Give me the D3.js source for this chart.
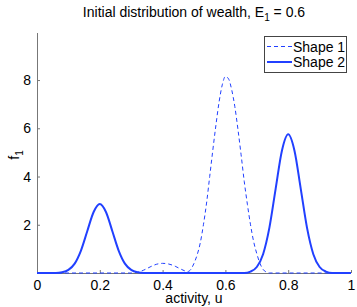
<!DOCTYPE html>
<html>
<head>
<meta charset="utf-8">
<script src="https://d3js.org/d3.v7.min.js"></script>
<style>
body{margin:0;background:#fff;}
text{font-family:"Liberation Sans",Arial,sans-serif;fill:#000;}
</style>
</head>
<body>
<script>
var xTicks = [0, 0.2, 0.4, 0.6, 0.8, 1];
var yTicks = [2, 4, 6, 8];
var seriesNames = ["Shape 1", "Shape 2"];

// shape 1 (dashed)
var shape1U = [0, 0.30, 0.32, 0.34, 0.36, 0.38, 0.40, 0.42, 0.44, 0.46, 0.48, 0.49, 0.50, 0.51, 0.52, 0.53, 0.54, 0.55, 0.56, 0.57, 0.58, 0.59, 0.60, 0.61, 0.62, 0.63, 0.64, 0.65, 0.66, 0.67, 0.68, 0.69, 0.70, 0.71, 0.72, 0.73, 0.74, 1];
var shape1F = [0, 0, 0.03, 0.12, 0.25, 0.36, 0.40, 0.37, 0.28, 0.15, 0.06, 0.15, 0.40, 0.75, 1.25, 2.0, 2.9, 4.0, 5.1, 6.15, 7.1, 7.8, 8.15, 8.05, 7.6, 6.9, 5.95, 4.9, 3.8, 2.85, 2.0, 1.3, 0.8, 0.4, 0.15, 0.04, 0, 0];

// shape 2 (solid)
var shape2U = [0, 0.06, 0.08, 0.10, 0.12, 0.14, 0.16, 0.18, 0.20, 0.22, 0.24, 0.26, 0.28, 0.30, 0.32, 0.34, 0.66, 0.68, 0.70, 0.72, 0.74, 0.76, 0.78, 0.80, 0.82, 0.84, 0.86, 0.88, 0.90, 0.92, 0.94, 1];
var shape2F = [0, 0, 0.03, 0.13, 0.39, 0.93, 1.73, 2.52, 2.86, 2.52, 1.73, 0.93, 0.39, 0.13, 0.03, 0, 0, 0.06, 0.25, 0.78, 1.87, 3.49, 5.07, 5.75, 5.07, 3.49, 1.87, 0.78, 0.25, 0.06, 0, 0];

var W = 357, H = 307;
var mLeft = 37, mRight = 351, mTop = 33, mBottom = 273;
var blue = "#2140ff";
var fs = "14px";

var svg = d3.select("body").append("svg").attr("width", W).attr("height", H);

var x = d3.scaleLinear().domain([0, 1]).range([mLeft, mRight]);
var y = d3.scaleLinear().domain([0, 9.95]).range([mBottom, mTop]);

function pts(us, vals){
  return us.map(function(u, i){ return [u, vals[i]]; });
}

var line = d3.line()
  .x(function(d){ return x(d[0]); })
  .y(function(d){ return y(d[1]); })
  .curve(d3.curveMonotoneX);

// axes
var xa = svg.append("g").attr("transform", "translate(0," + mBottom + ")")
  .call(d3.axisBottom(x).tickValues(xTicks).tickSize(-3).tickPadding(7).tickFormat(d3.format("")));
var ya = svg.append("g").attr("transform", "translate(" + mLeft + ",0)")
  .call(d3.axisLeft(y).tickValues(yTicks).tickSize(-3).tickPadding(6));
[xa, ya].forEach(function(g){
  g.select(".domain").attr("stroke", "#777");
  g.selectAll(".tick line").attr("stroke", "#777");
  g.selectAll("text").style("font-size", fs).style("font-family", "Liberation Sans, Arial, sans-serif");
});
xa.select(".domain").attr("d", "M" + mLeft + ",0.5H" + mRight);
ya.select(".domain").attr("d", "M0.5," + mBottom + "V" + mTop);

svg.append("path").datum(pts(shape1U, shape1F))
  .attr("d", line).attr("fill", "none").attr("stroke", blue)
  .attr("stroke-width", 1).attr("stroke-dasharray", "4,3");
svg.append("path").datum(pts(shape2U, shape2F))
  .attr("d", line).attr("fill", "none").attr("stroke", blue)
  .attr("stroke-width", 2);

// title
var t = svg.append("text").attr("x", (mLeft + mRight) / 2).attr("y", 17)
  .attr("text-anchor", "middle").style("font-size", fs);
t.append("tspan").text("Initial distribution of wealth, E");
t.append("tspan").attr("dy", 4).style("font-size", "10px").text("1");
t.append("tspan").attr("dy", -4).text(" = 0.6");

svg.append("text").attr("x", (mLeft + mRight) / 2).attr("y", 303)
  .attr("text-anchor", "middle").style("font-size", fs).text("activity, u");

var yl = svg.append("text").attr("transform", "translate(19,155) rotate(-90)")
  .attr("text-anchor", "middle").style("font-size", fs);
yl.append("tspan").text("f");
yl.append("tspan").attr("dy", 4).style("font-size", "10px").text("1");

// legend
var lg = svg.append("g");
lg.append("rect").attr("x", 264.5).attr("y", 36.5).attr("width", 82).attr("height", 36)
  .attr("fill", "#fff").attr("stroke", "#444").attr("stroke-width", 1);
seriesNames.forEach(function(name, i){
  var yy = 46.5 + i * 15.5;
  lg.append("line").attr("x1", 267).attr("x2", 292).attr("y1", yy).attr("y2", yy)
    .attr("stroke", blue).attr("stroke-width", i === 0 ? 1 : 2)
    .attr("stroke-dasharray", i === 0 ? "4,3" : null);
  lg.append("text").attr("x", 293).attr("y", yy + 5).style("font-size", fs).text(name);
});
</script>
</body>
</html>
